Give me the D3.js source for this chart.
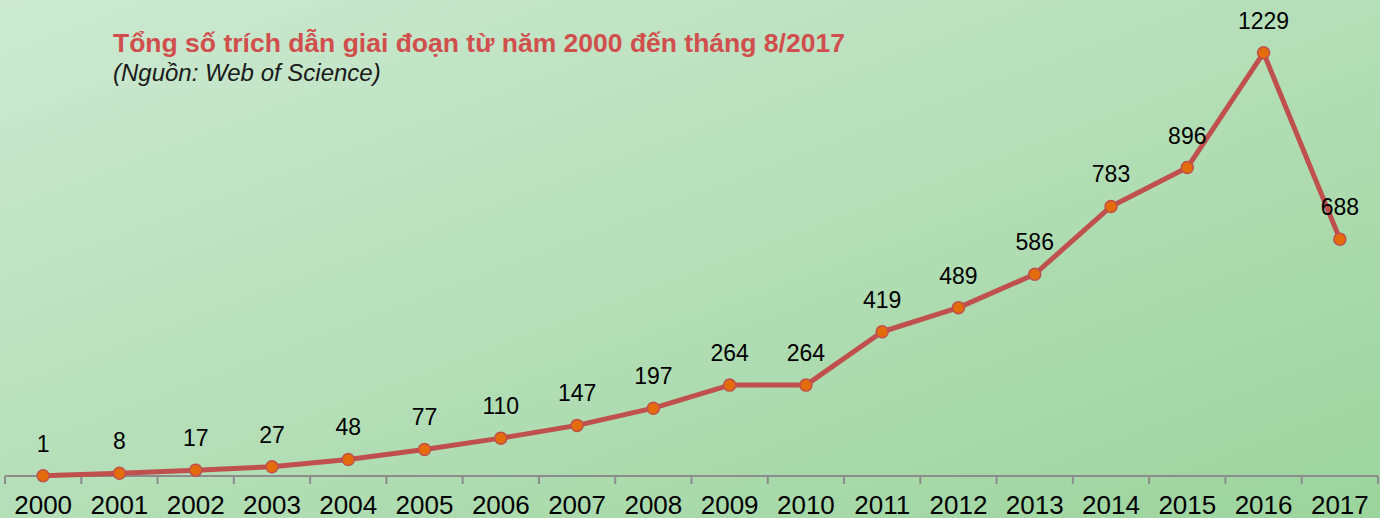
<!DOCTYPE html>
<html>
<head>
<meta charset="utf-8">
<script src="https://cdn.jsdelivr.net/npm/d3@7"></script>
<style>
  html, body { margin: 0; padding: 0; overflow: hidden; }
  body { font-family: "Liberation Sans", Arial, sans-serif; }
</style>
</head>
<body>
<script>
// Chart data
const years = ["2000", "2001", "2002", "2003", "2004", "2005", "2006", "2007", "2008",
  "2009", "2010", "2011", "2012", "2013", "2014", "2015", "2016", "2017"];
const citations = [1, 8, 17, 27, 48, 77, 110, 147, 197, 264, 264, 419, 489, 586, 783, 896, 1229, 688];
const titleText = "Tổng số trích dẫn giai đoạn từ năm 2000 đến tháng 8/2017";
const sourceText = "(Nguồn: Web of Science)";

const W = 1380, H = 518;

const svg = d3.select("body")
    .append("svg")
    .attr("width", W)
    .attr("height", H);

// Background gradient
const defs = svg.append("defs");
const grad = defs.append("linearGradient")
    .attr("id", "bg")
    .attr("x1", "0%").attr("y1", "0%")
    .attr("x2", "100%").attr("y2", "100%");
grad.append("stop").attr("offset", "0%").attr("stop-color", "#cde9d2");
grad.append("stop").attr("offset", "100%").attr("stop-color", "#9cd49d");

svg.append("rect")
    .attr("width", W)
    .attr("height", H)
    .attr("fill", "url(#bg)");

// Scales
const xScale = d3.scaleBand()
    .domain(years)
    .range([5, 1378]);

const yScale = d3.scaleLinear()
    .domain([0, 1400])
    .range([476, -6]);

// X axis
const xAxis = d3.axisBottom(xScale).tickSize(0).tickPadding(0);

const axisG = svg.append("g")
    .attr("transform", "translate(0,476)");

axisG.append("line")
    .attr("x1", xScale.range()[0])
    .attr("x2", xScale.range()[1])
    .attr("stroke", "#8c8c8c")
    .attr("stroke-width", 2);

// tick marks at band boundaries
const bounds = years.map(d => xScale(d)).concat([xScale.range()[1]]);
axisG.selectAll(".tick-mark")
    .data(bounds)
    .enter()
    .append("line")
    .attr("class", "tick-mark")
    .attr("x1", d => d)
    .attr("x2", d => d)
    .attr("y1", 0)
    .attr("y2", 8)
    .attr("stroke", "#8c8c8c")
    .attr("stroke-width", 2);

const labelsG = svg.append("g")
    .attr("transform", "translate(0,476)")
    .call(xAxis);
labelsG.select(".domain").remove();
labelsG.selectAll("text")
    .attr("y", 38)
    .attr("dy", null)
    .style("font-family", "'Liberation Sans', Arial, sans-serif")
    .style("font-size", "26px")
    .style("fill", "#000");

// Line
const cx = (d, i) => xScale(years[i]) + xScale.bandwidth() / 2;

const line = d3.line()
    .x((d, i) => cx(d, i))
    .y(d => yScale(d));

svg.append("path")
    .datum(citations)
    .attr("fill", "none")
    .attr("stroke", "#c0504d")
    .attr("stroke-width", 5)
    .attr("stroke-linejoin", "round")
    .attr("d", line);

svg.selectAll(".dot")
    .data(citations)
    .enter()
    .append("circle")
    .attr("class", "dot")
    .attr("cx", cx)
    .attr("cy", d => yScale(d))
    .attr("r", 6)
    .attr("fill", "#e46c0a")
    .attr("stroke", "#c0504d")
    .attr("stroke-width", 1.5);

// Data labels
svg.selectAll(".val")
    .data(citations)
    .enter()
    .append("text")
    .attr("class", "val")
    .attr("x", cx)
    .attr("y", d => yScale(d) - 24)
    .attr("text-anchor", "middle")
    .style("font-size", "23px")
    .style("fill", "#000")
    .text(d => d);

// Titles
svg.append("text")
    .attr("x", 113)
    .attr("y", 52)
    .style("font-size", "26.5px")
    .style("font-weight", "bold")
    .style("fill", "#d04f4d")
    .text(titleText);

svg.append("text")
    .attr("x", 113)
    .attr("y", 81)
    .style("font-size", "24px")
    .style("font-style", "italic")
    .style("fill", "#1a1a1a")
    .text(sourceText);
</script>
</body>
</html>
